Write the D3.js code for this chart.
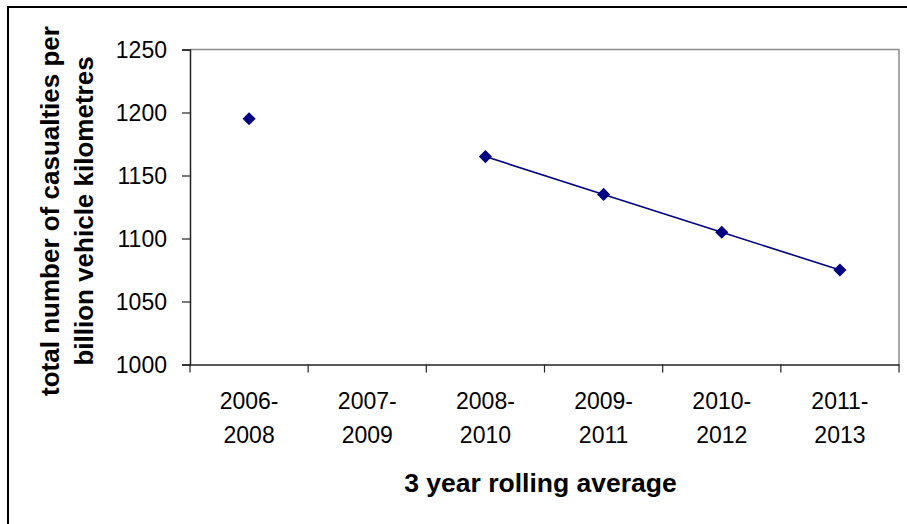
<!DOCTYPE html>
<html>
<head>
<meta charset="utf-8">
<script src="https://cdn.jsdelivr.net/npm/d3@7"></script>
<style>
  html, body { margin: 0; padding: 0; background: #fff; }
  svg { display: block; }
  text { font-family: "Liberation Sans", Arial, sans-serif; fill: #000; }
</style>
</head>
<body>
<svg id="chart" width="907" height="524"></svg>
<script>
// Three-year rolling periods and casualties per billion vehicle kilometres
const periodLines = [
  ["2006-", "2008"], ["2007-", "2009"], ["2008-", "2010"],
  ["2009-", "2011"], ["2010-", "2012"], ["2011-", "2013"]
];
const periods = periodLines.map(p => p.join(""));
const casualtyRates = [1195, null, 1165, 1135, 1105, 1075];
const yTicks = [1000, 1050, 1100, 1150, 1200, 1250];
const xTitle = "3 year rolling average";
const yTitleLines = ["total number of casualties per", "billion vehicle kilometres"];

const svg = d3.select("#chart");
const plot = { left: 190, right: 899, top: 49.5, bottom: 364.5 };

// Outer chart frame
svg.append("rect")
  .attr("x", 8).attr("y", 7)
  .attr("width", 1200).attr("height", 1200)
  .attr("fill", "none").attr("stroke", "#000").attr("stroke-width", 2);

const x = d3.scaleBand().domain(periods).range([plot.left, plot.right]).padding(0);
const y = d3.scaleLinear().domain([1000, 1250]).range([plot.bottom, plot.top]);

// Plot-area border (top and right) in grey
svg.append("path")
  .attr("d", `M${plot.left},${plot.top}H${plot.right}V${plot.bottom}`)
  .attr("fill", "none").attr("stroke", "#8c8c8c").attr("stroke-width", 1.5);

// Y axis
const yAxis = svg.append("g")
  .attr("transform", `translate(${plot.left},0)`)
  .call(d3.axisLeft(y).tickValues(yTicks).tickSize(8).tickPadding(15).tickFormat(d3.format("d")));
yAxis.select(".domain").attr("stroke", "#222").attr("stroke-width", 1.5);
yAxis.selectAll(".tick line").attr("stroke", "#222").attr("stroke-width", 1.2);
yAxis.selectAll(".tick text")
  .style("font-size", "23px").attr("fill", "#000").attr("dy", "0.36em");

// X axis: ticks sit on category boundaries
const xAxis = svg.append("g")
  .attr("transform", `translate(0,${plot.bottom})`)
  .call(d3.axisBottom(x).tickSize(0).tickFormat(""));
xAxis.select(".domain").attr("stroke", "#222").attr("stroke-width", 1.5);
xAxis.selectAll(".tick").remove();

const boundaries = periods.map(p => x(p)).concat([plot.right]);
xAxis.selectAll("line.bound")
  .data(boundaries)
  .join("line")
  .attr("class", "bound")
  .attr("x1", d => d).attr("x2", d => d)
  .attr("y1", 0).attr("y2", 8)
  .attr("stroke", "#222").attr("stroke-width", 1.2);

// Two-line period labels
const labels = svg.append("g").selectAll("text")
  .data(periodLines)
  .join("text")
  .attr("text-anchor", "middle")
  .style("font-size", "23px")
  .attr("transform", (d, i) => `translate(${x(periods[i]) + x.bandwidth() / 2},0)`);
labels.selectAll("tspan")
  .data(d => d)
  .join("tspan")
  .attr("x", 0)
  .attr("y", (d, i) => 409 + i * 34)
  .text(d => d);

// Axis titles
svg.append("text")
  .attr("x", (plot.left + plot.right) / 2 - 4)
  .attr("y", 492)
  .attr("text-anchor", "middle")
  .style("font-size", "26.5px").style("font-weight", "bold")
  .text(xTitle);

const yTitle = svg.append("text")
  .attr("transform", `translate(0,${211}) rotate(-90)`)
  .attr("text-anchor", "middle")
  .style("font-size", "26px").style("font-weight", "bold");
yTitle.selectAll("tspan")
  .data(yTitleLines)
  .join("tspan")
  .attr("x", 0)
  .attr("y", (d, i) => 59 + i * 34)
  .text(d => d);

// Series line (gaps where no value) and diamond markers
const navy = "#000080";
const pts = periods.map((p, i) => ({ p, v: casualtyRates[i] }));
const line = d3.line()
  .defined(d => d.v != null)
  .x(d => x(d.p) + x.bandwidth() / 2)
  .y(d => y(d.v));
svg.append("path")
  .datum(pts)
  .attr("d", line)
  .attr("fill", "none").attr("stroke", navy).attr("stroke-width", 1.6);

const diamond = d3.symbol().type(d3.symbolSquare).size(86);
svg.append("g").selectAll("path")
  .data(pts.filter(d => d.v != null))
  .join("path")
  .attr("d", diamond)
  .attr("transform", d => `translate(${x(d.p) + x.bandwidth() / 2},${y(d.v)}) rotate(45)`)
  .attr("fill", navy);
</script>
</body>
</html>
